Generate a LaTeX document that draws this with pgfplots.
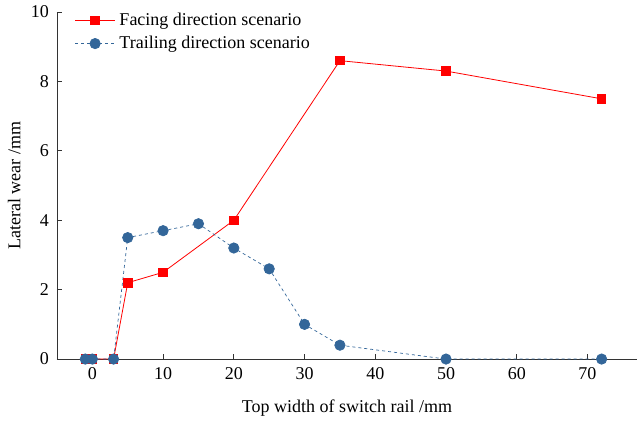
\documentclass[border=0pt]{standalone}
\usepackage{pgfplots}
\pgfplotsset{compat=1.18}
\usepackage{fontspec}
\setmainfont{Liberation Serif}
\definecolor{tblue}{RGB}{51,102,153}
\definecolor{fred}{RGB}{255,0,0}
\begin{document}
\fontsize{18}{21}\selectfont
\begin{tikzpicture}
\begin{axis}[
  scale only axis,
  width=580pt, height=347pt,
  xmin=-5, xmax=77, ymin=0, ymax=10,
  axis x line*=bottom, axis y line*=left,
  axis line style={-, black!80, line width=0.8pt},
  xtick={0,10,...,70}, ytick={0,2,...,10},
  tick align=inside, major tick length=5pt,
  tick style={black!80, line width=0.8pt},
  /pgf/number format/assume math mode=true,
  tick label style={font=\fontsize{18}{21}\selectfont},
  xticklabel style={yshift=-2pt},
  yticklabel style={xshift=-2pt},
  label style={font=\fontsize{18}{21}\selectfont},
  xlabel={Top width of switch rail /mm},
  ylabel={Lateral wear /mm},
  xlabel style={yshift=-8pt},
  ylabel style={yshift=-2pt},
  clip=false,
  legend cell align=left,
  legend style={draw=none, fill=none, at={(0.025,1.01)}, anchor=north west,
    font=\fontsize{18}{21}\selectfont, row sep=4pt,
    nodes={inner xsep=4pt}},
  legend image code/.code={
    \draw[mark repeat=2, mark phase=2, #1] plot coordinates {(0pt,0pt) (20pt,0pt) (40pt,0pt)};
  },
]
\addplot[fred, line width=0.8pt, mark=square*, mark size=4.2pt, mark options={solid, fill=fred, draw=fred}] coordinates {
(-1,0) (0,0) (3,0) (5,2.2) (10,2.5) (20,4.0) (35,8.6) (50,8.3) (72,7.5)};
\addlegendentry{Facing direction scenario}
\addplot[tblue, line width=0.7pt, dashed, mark=*, mark size=5.2pt, mark options={solid, fill=tblue, draw=tblue}] coordinates {
(-1,0) (0,0) (3,0) (5,3.5) (10,3.7) (15,3.9) (20,3.2) (25,2.6) (30,1.0) (35,0.4) (50,0) (72,0)};
\addlegendentry{Trailing direction scenario}
\end{axis}
\path (current axis.south west) ++(-57pt,-63pt) rectangle ++(638pt,422pt);
\end{tikzpicture}
\end{document}
